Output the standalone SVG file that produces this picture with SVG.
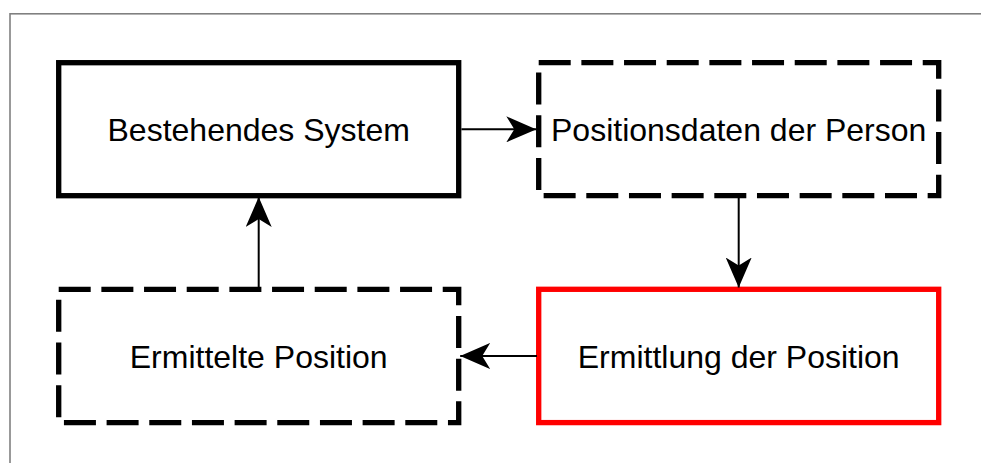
<svg xmlns="http://www.w3.org/2000/svg" width="981" height="463" viewBox="0 0 981 463">
  <defs>
    <style>
      .box { fill: #ffffff; stroke: #000000; stroke-width: 5.33; }
      .dashed { stroke-dasharray: 32 10.67; }
      .red { stroke: #ff0000; }
      .label { font-family: "Liberation Sans", Arial, sans-serif; font-size: 32px; fill: #000000; text-anchor: middle; }
      .link { fill: none; stroke: #000000; stroke-width: 2; }
    </style>
    <marker id="arrow" viewBox="0 0 30 26" refX="30" refY="13" markerWidth="30" markerHeight="26" markerUnits="userSpaceOnUse" orient="auto">
      <path d="M30,13 L0,0 L8,13 L0,26 Z" fill="#000000"/>
    </marker>
  </defs>

  <rect width="981" height="463" fill="#ffffff"/>
  <!-- page frame -->
  <rect x="10" y="13.8" width="1000" height="500" fill="none" stroke="#808080" stroke-width="1.6"/>

  <g id="node-bestehendes-system">
    <rect class="box" x="58.7" y="62.7" width="400" height="133"/>
    <text class="label" x="258.7" y="141">Bestehendes System</text>
  </g>

  <g id="node-positionsdaten">
    <rect class="box dashed" x="538.7" y="62.7" width="400" height="133"/>
    <text class="label" x="738.7" y="141">Positionsdaten der Person</text>
  </g>

  <g id="node-ermittlung">
    <rect class="box red" x="538.7" y="289.3" width="400" height="133.3"/>
    <text class="label" x="738.7" y="367.5">Ermittlung der Position</text>
  </g>

  <g id="node-ermittelte-position">
    <rect class="box dashed" x="58.7" y="289.3" width="400" height="133.3"/>
    <text class="label" x="258.7" y="367.5">Ermittelte Position</text>
  </g>

  <g id="connectors">
    <line class="link" x1="461.4" y1="129.3" x2="536.3" y2="129.3" marker-end="url(#arrow)"/>
    <line class="link" x1="738.7" y1="198" x2="738.7" y2="287.5" marker-end="url(#arrow)"/>
    <line class="link" x1="537" y1="356" x2="460.2" y2="356" marker-end="url(#arrow)"/>
    <line class="link" x1="258.7" y1="289.3" x2="258.7" y2="197" marker-end="url(#arrow)"/>
  </g>
</svg>
